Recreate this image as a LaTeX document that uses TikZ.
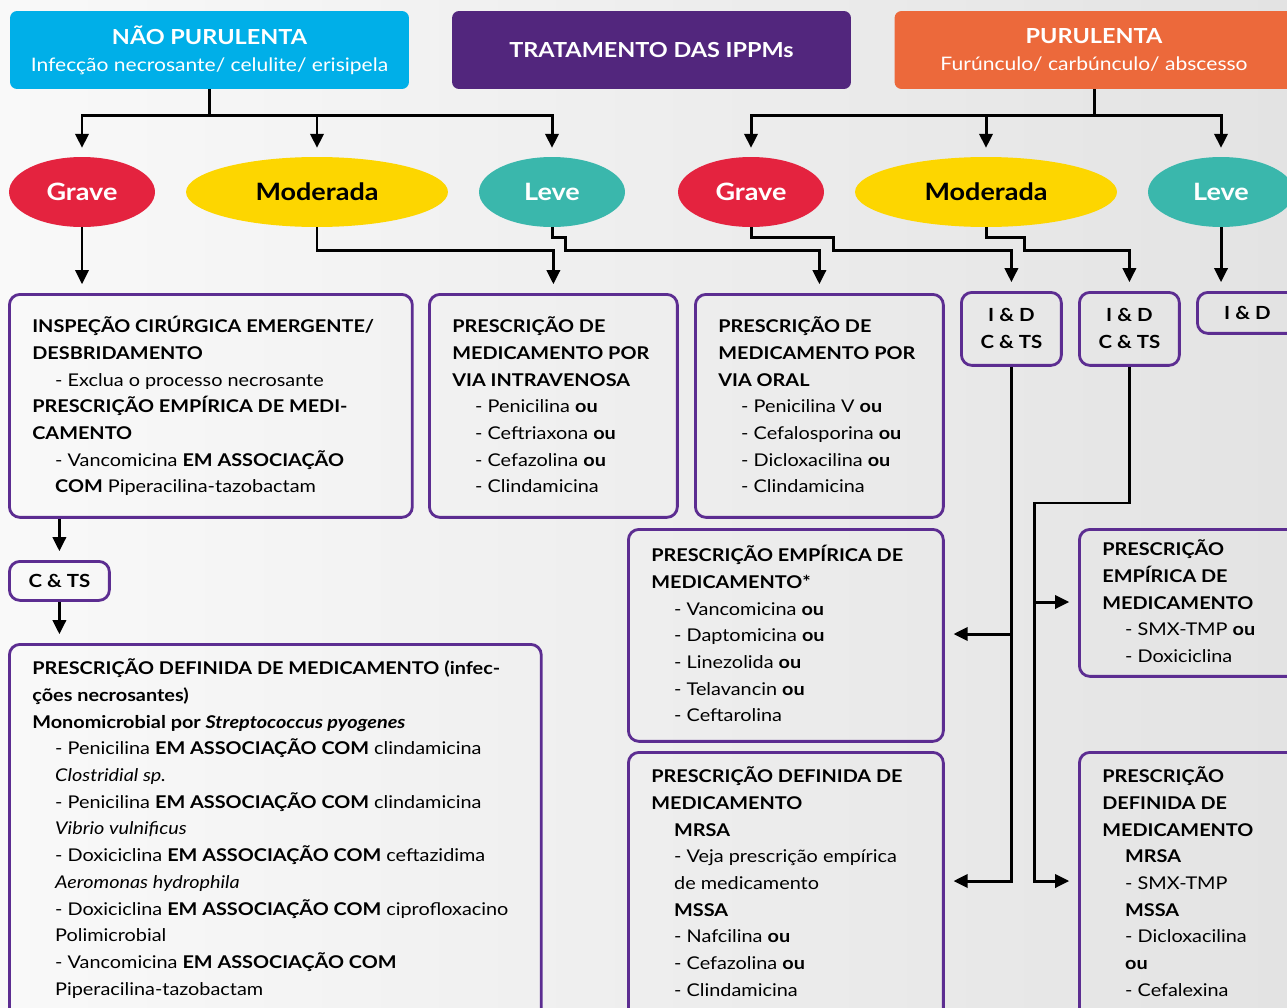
\documentclass[tikz,border=0pt]{standalone}
\usepackage{fontspec}
\setmainfont{Lato}[FakeStretch=1.13]
\usetikzlibrary{arrows.meta,shapes.geometric}
\definecolor{naoBlue}{RGB}{0,175,232}
\definecolor{ippmPurple}{RGB}{82,38,125}
\definecolor{puruOrange}{RGB}{236,105,59}
\definecolor{graveRed}{RGB}{228,35,63}
\definecolor{modYellow}{RGB}{253,214,0}
\definecolor{leveTeal}{RGB}{58,183,172}
\definecolor{boxPurple}{RGB}{92,45,145}
\definecolor{bgLeft}{RGB}{249,249,249}
\definecolor{bgRight}{RGB}{227,227,227}
\newcommand\ind{\hspace*{13pt}}
\newcommand\fl{\rule{0pt}{11pt}}

\begin{document}
\begin{tikzpicture}[x=0.02cm,y=-0.02cm,>={Triangle[width=7.5pt,length=8pt]},
  conn/.style={line width=1.7pt},
  arr/.style={conn,->,shorten >=5pt},
  head/.style={rounded corners=4pt,minimum width=7.98cm,minimum height=1.56cm,
    text=white,align=center,font=\fontsize{10.6}{15.5}\selectfont},
  sev/.style={ellipse,minimum height=1.4cm,minimum width=2.92cm,
    font=\fontsize{13.6}{16}\selectfont\bfseries},
  pbox/.style={draw=boxPurple,line width=1.6pt,rounded corners=6pt,anchor=north west},
  tag/.style={align=center,font=\fontsize{10.3}{15.4}\selectfont\bfseries},
  body/.style={anchor=north west,align=left,inner sep=0pt,
    font=\fontsize{10}{15.2}\selectfont}]
  \useasboundingbox (0,0) rectangle (1287,1007);
  \shade[left color=bgLeft,right color=bgRight] (0,0) rectangle (1287,1007);

  % Headers
  \node[head,fill=naoBlue] (nao) at (209.5,50)
    {{\fontsize{11.8}{15.5}\selectfont\bfseries NÃO PURULENTA}\\Infecção necrosante/ celulite/ erisipela};
  \node[head,fill=ippmPurple,font=\fontsize{11.8}{15.5}\selectfont\bfseries] (ippm) at (651.5,50)
    {TRATAMENTO DAS IPPMs};
  \node[head,fill=puruOrange] (puru) at (1094,50)
    {{\fontsize{11.8}{15.5}\selectfont\bfseries PURULENTA}\\Furúnculo/ carbúnculo/ abscesso};

  % Severity
  \node[sev,fill=graveRed,text=white] (grave1) at (82,192) {Grave};
  \node[sev,fill=modYellow,minimum width=5.24cm] (mod1) at (317,192) {Moderada};
  \node[sev,fill=leveTeal,text=white] (leve1) at (552,192) {Leve};
  \node[sev,fill=graveRed,text=white] (grave2) at (751,192) {Grave};
  \node[sev,fill=modYellow,minimum width=5.24cm] (mod2) at (986,192) {Moderada};
  \node[sev,fill=leveTeal,text=white] (leve2) at (1221,192) {Leve};

  % Boxes
  \node[pbox,minimum width=8.06cm,minimum height=4.46cm] (insp) at (8,293) {};
  \node[pbox,minimum width=4.96cm,minimum height=4.46cm] (iv) at (428,293) {};
  \node[pbox,minimum width=4.96cm,minimum height=4.46cm] (oral) at (694,293) {};
  \node[pbox,minimum width=2cm,minimum height=1.46cm,tag] (idc1) at (960,291) {I \& D\\C \& TS};
  \node[pbox,minimum width=2cm,minimum height=1.46cm,tag] (idc2) at (1078,291) {I \& D\\C \& TS};
  \node[pbox,minimum width=2cm,minimum height=0.82cm,tag] (idL) at (1196,291) {I \& D};
  \node[pbox,minimum width=2cm,minimum height=0.78cm,tag] (cts) at (8,560) {C \& TS};
  \node[pbox,minimum width=10.64cm,minimum height=7.6cm] (necro) at (8,643) {};
  \node[pbox,minimum width=6.3cm,minimum height=4.24cm] (empD) at (627,528) {};
  \node[pbox,minimum width=6.3cm,minimum height=5.6cm] (defM) at (627,751) {};
  \node[pbox,minimum width=4.4cm,minimum height=2.94cm] (empE) at (1078,528) {};
  \node[pbox,minimum width=4.4cm,minimum height=5.6cm] (defH) at (1078,751) {};

  % Box texts
  \node[body] (inspT) at ([shift={(24,20)}]insp.north west)
    {\fl\textbf{INSPEÇÃO CIRÚRGICA EMERGENTE/}\\
     \textbf{DESBRIDAMENTO}\\
     \ind- Exclua o processo necrosante\\
     \textbf{PRESCRIÇÃO EMPÍRICA DE MEDI-}\\
     \textbf{CAMENTO}\\
     \ind- Vancomicina \textbf{EM ASSOCIAÇÃO}\\
     \ind\textbf{COM} Piperacilina-tazobactam};
  \node[body] (ivT) at ([shift={(24,20)}]iv.north west)
    {\fl\textbf{PRESCRIÇÃO DE}\\
     \textbf{MEDICAMENTO POR}\\
     \textbf{VIA INTRAVENOSA}\\
     \ind- Penicilina \textbf{ou}\\
     \ind- Ceftriaxona \textbf{ou}\\
     \ind- Cefazolina \textbf{ou}\\
     \ind- Clindamicina};
  \node[body] (oralT) at ([shift={(24,20)}]oral.north west)
    {\fl\textbf{PRESCRIÇÃO DE}\\
     \textbf{MEDICAMENTO POR}\\
     \textbf{VIA ORAL}\\
     \ind- Penicilina V \textbf{ou}\\
     \ind- Cefalosporina \textbf{ou}\\
     \ind- Dicloxacilina \textbf{ou}\\
     \ind- Clindamicina};
  \node[body] (empDT) at ([shift={(24,14)}]empD.north west)
    {\fl\textbf{PRESCRIÇÃO EMPÍRICA DE}\\
     \textbf{MEDICAMENTO*}\\
     \ind- Vancomicina \textbf{ou}\\
     \ind- Daptomicina \textbf{ou}\\
     \ind- Linezolida \textbf{ou}\\
     \ind- Telavancin \textbf{ou}\\
     \ind- Ceftarolina};
  \node[body] (defMT) at ([shift={(24,12)}]defM.north west)
    {\fl\textbf{PRESCRIÇÃO DEFINIDA DE}\\
     \textbf{MEDICAMENTO}\\
     \ind\textbf{MRSA}\\
     \ind- Veja prescrição empírica\\
     \ind de medicamento\\
     \ind\textbf{MSSA}\\
     \ind- Nafcilina \textbf{ou}\\
     \ind- Cefazolina \textbf{ou}\\
     \ind- Clindamicina};
  \node[body] (empET) at ([shift={(24,8)}]empE.north west)
    {\fl\textbf{PRESCRIÇÃO}\\
     \textbf{EMPÍRICA DE}\\
     \textbf{MEDICAMENTO}\\
     \ind- SMX-TMP \textbf{ou}\\
     \ind- Doxiciclina};
  \node[body] (defHT) at ([shift={(24,12)}]defH.north west)
    {\fl\textbf{PRESCRIÇÃO}\\
     \textbf{DEFINIDA DE}\\
     \textbf{MEDICAMENTO}\\
     \ind\textbf{MRSA}\\
     \ind- SMX-TMP\\
     \ind\textbf{MSSA}\\
     \ind- Dicloxacilina\\
     \ind\textbf{ou}\\
     \ind- Cefalexina};
  \node[body] (necroT) at ([shift={(24,12)}]necro.north west)
    {\fl\textbf{PRESCRIÇÃO DEFINIDA DE MEDICAMENTO (infec-}\\
     \textbf{ções necrosantes)}\\
     \textbf{Monomicrobial por \textit{Streptococcus pyogenes}}\\
     \ind- Penicilina \textbf{EM ASSOCIAÇÃO COM} clindamicina\\
     \ind\textit{Clostridial sp.}\\
     \ind- Penicilina \textbf{EM ASSOCIAÇÃO COM} clindamicina\\
     \ind\textit{Vibrio vulnificus}\\
     \ind- Doxiciclina \textbf{EM ASSOCIAÇÃO COM} ceftazidima\\
     \ind\textit{Aeromonas hydrophila}\\
     \ind- Doxiciclina \textbf{EM ASSOCIAÇÃO COM} ciprofloxacino\\
     \ind Polimicrobial\\
     \ind- Vancomicina \textbf{EM ASSOCIAÇÃO COM}\\
     \ind Piperacilina-tazobactam};

  % Header branches
  \draw[conn] (nao.south) -- ++(0,26) coordinate (naoJ);
  \draw[arr] (naoJ) -| (grave1.north);
  \draw[arr] (naoJ) -| (mod1.north);
  \draw[arr] (naoJ) -| (leve1.north);
  \draw[conn] (puru.south) -- ++(0,26) coordinate (puruJ);
  \draw[arr] (puruJ) -| (grave2.north);
  \draw[arr] (puruJ) -| (mod2.north);
  \draw[arr] (puruJ) -| (leve2.north);

  % Severity to treatment
  \draw[arr] (grave1.south) -- (grave1.south |- insp.north);
  \draw[arr] (mod1.south) -- ++(0,23) -| (iv.north);
  \draw[arr] (leve1.south) -- ++(0,10) -- ++(13,0) -- ++(0,13) -| (oral.north);
  \draw[arr] (grave2.south) -- ++(0,10) -- ++(82,0) -- ++(0,13) -| (idc1.north);
  \draw[arr] (mod2.south) -- ++(0,10) -- ++(38,0) -- ++(0,13) -| (idc2.north);
  \draw[arr] (leve2.south) -- (leve2.south |- idL.north);

  % Left column
  \draw[arr] (cts.north |- insp.south) -- (cts.north);
  \draw[arr] (cts.south) -- (cts.south |- necro.north);

  % Right buses
  \draw[arr] (idc1.south) |- (defM.east |- 0,881);
  \coordinate (bus1) at (idc1.south |- 0,634);
  \draw[arr] (bus1) -- (empD.east |- bus1);
  \coordinate (bus2) at (1034,503);
  \draw[arr] (idc2.south) |- (bus2) |- (defH.west |- 0,881);
  \coordinate (bus2b) at (bus2 |- 0,602);
  \draw[arr] (bus2b) -- (empE.west |- bus2b);
\end{tikzpicture}
\end{document}
